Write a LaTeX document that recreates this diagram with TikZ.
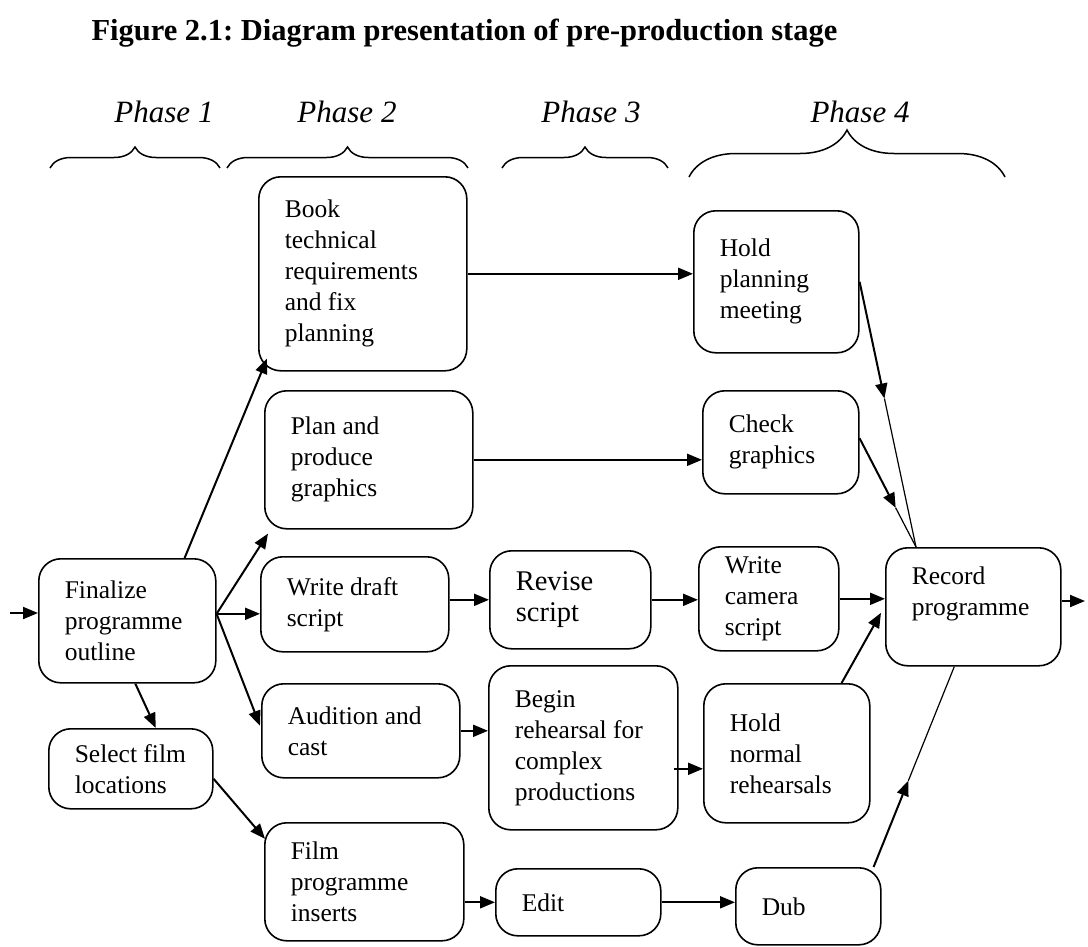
\documentclass[tikz,border=0pt]{standalone}
\usepackage{fontspec}
\setmainfont{Liberation Serif}
\usetikzlibrary{arrows.meta,calc,decorations.pathreplacing}
\frenchspacing
\newcommand{\boxfont}{\fontsize{25.5}{31}\selectfont}
\newcommand{\activity}[6]{
\pgfmathsetmacro{\tw}{#4-52}
\node[activity, text width=\tw pt, minimum height=#5pt] (#1) at (#2,#3) {#6};
}
\tikzset{
activity/.style={draw, line width=1.6pt, rounded corners=22pt, anchor=north west, align=flush left, inner xsep=26pt, inner ysep=4pt, font=\boxfont},
flow/.style={-{Triangle[length=15pt,width=12pt]}, line width=2pt},
tail/.style={line width=1.2pt},
phasebrace/.style={decorate, line width=1.5pt, decoration={brace, amplitude=#1}},
phase/.style={font=\fontsize{31}{36}\selectfont\itshape}
}

\begin{document}
\begin{tikzpicture}[x=1pt, y=-1pt]
\useasboundingbox (0,0) rectangle (1088,946);
\node[anchor=base west, font=\fontsize{30.5}{36}\selectfont\bfseries] (title) at (88,40) {Figure 2.1: Diagram presentation of pre-production stage};

% phases
\node[phase] (ph1) at (164,112) {Phase 1};
\node[phase] (ph2) at (347,112) {Phase 2};
\node[phase] (ph3) at (591,112) {Phase 3};
\node[phase] (ph4) at (860,112) {Phase 4};
\draw[phasebrace=21pt] (50,168) -- (220,168);
\draw[phasebrace=21pt] (227,168) -- (468,168);
\draw[phasebrace=21pt] (502,168) -- (668,168);
\draw[phasebrace=47pt] (689,177) -- (1005,177);

% boxes
\activity{final}{38}{558}{177}{124}{Finalize\\programme\\outline}
\activity{select}{48}{728}{164}{80}{Select~film\\locations}
\activity{book}{258}{176}{208}{194}{Book\\technical\\requirements\\and fix\\planning}
\activity{plan}{264}{390}{208}{138}{Plan and\\produce\\graphics}
\activity{draft}{260}{556}{188}{95}{Write draft\\script}
\activity{audition}{261}{683}{198}{94}{Audition and\\cast}
\activity{film}{264}{822}{199}{118}{Film\\programme\\inserts}
\activity{revise}{489}{550}{161}{98}{\fontsize{28.5}{32}\selectfont Revise\\script}
\activity{begin}{488}{665}{189}{164}{Begin\\rehearsal for\\complex\\productions}
\activity{edit}{495}{868}{165}{67}{Edit}
\activity{holdplan}{693}{210}{165}{142}{Hold\\planning\\meeting}
\activity{check}{702}{390}{156}{103}{Check\\graphics}
\activity{camera}{698}{546}{140}{104}{Write\\camera\\script}
\activity{holdnorm}{703}{683}{166}{139}{Hold\\normal\\rehearsals}
\activity{dub}{735}{867}{145}{77}{Dub}
\activity{record}{885}{547}{175}{118}{Record\\programme\\\mbox{}}

% arrows
\coordinate (in) at (10,613);
\draw[flow] (in) -- (in -| final.west);
\coordinate (fan) at ([yshift=7pt]final.east);
\draw[flow] ([xshift=-32pt]final.north east) -- ([xshift=9pt,yshift=13pt]book.south west);
\draw[flow] (fan) -- ([xshift=4pt,yshift=-4pt]plan.south west);
\draw[flow] (fan) -- (fan -| draft.west);
\draw[flow] (fan) -- ([xshift=-1pt,yshift=5pt]audition.west);
\draw[flow] ([xshift=8pt]final.south) -- ([xshift=25pt]select.north);
\draw[flow] ([yshift=-10pt]select.east) -- ([xshift=1pt,yshift=43pt]film.west);
\draw[flow] (book.east) -- (book.east -| holdplan.west);
\draw[flow] (plan.east) -- (plan.east -| check.west);
\draw[flow] (draft.east |- revise.west) -- (revise.west);
\draw[flow] (revise.east) -- (revise.east -| camera.west);
\draw[flow] (audition.east) -- (audition.east -| begin.west);
\coordinate (b2) at ([xshift=-5pt,yshift=-21pt]begin.east);
\draw[flow] (b2) -- (b2 -| holdnorm.west);
\draw[flow] (film.east |- edit.west) -- (edit.west);
\draw[flow] (edit.east) -- (edit.east -| dub.west);
\draw[flow] (camera.east) -- (camera.east -| record.west);
\draw[flow] ([xshift=-29pt]holdnorm.north east) -- ([xshift=-4pt,yshift=-6pt]record.west);
\coordinate (rtop) at ([xshift=31pt]record.north west);
\draw[flow] (holdplan.east) -- ($(holdplan.east)!0.44!(rtop)$) coordinate (m1);
\draw[tail] (m1) -- (rtop);
\draw[flow] ([yshift=4pt]check.east) -- ($([yshift=4pt]check.east)!0.64!(rtop)$) coordinate (m2);
\draw[tail] (m2) -- (rtop);
\coordinate (rbot) at ([xshift=-19pt]record.south);
\draw[flow] ([xshift=-8pt]dub.north east) -- ($([xshift=-8pt]dub.north east)!0.43!(rbot)$) coordinate (m3);
\draw[tail] (m3) -- (rbot);
\coordinate (out) at (1085,601);
\draw[flow] (record.east |- out) -- (out);
\end{tikzpicture}
\end{document}
